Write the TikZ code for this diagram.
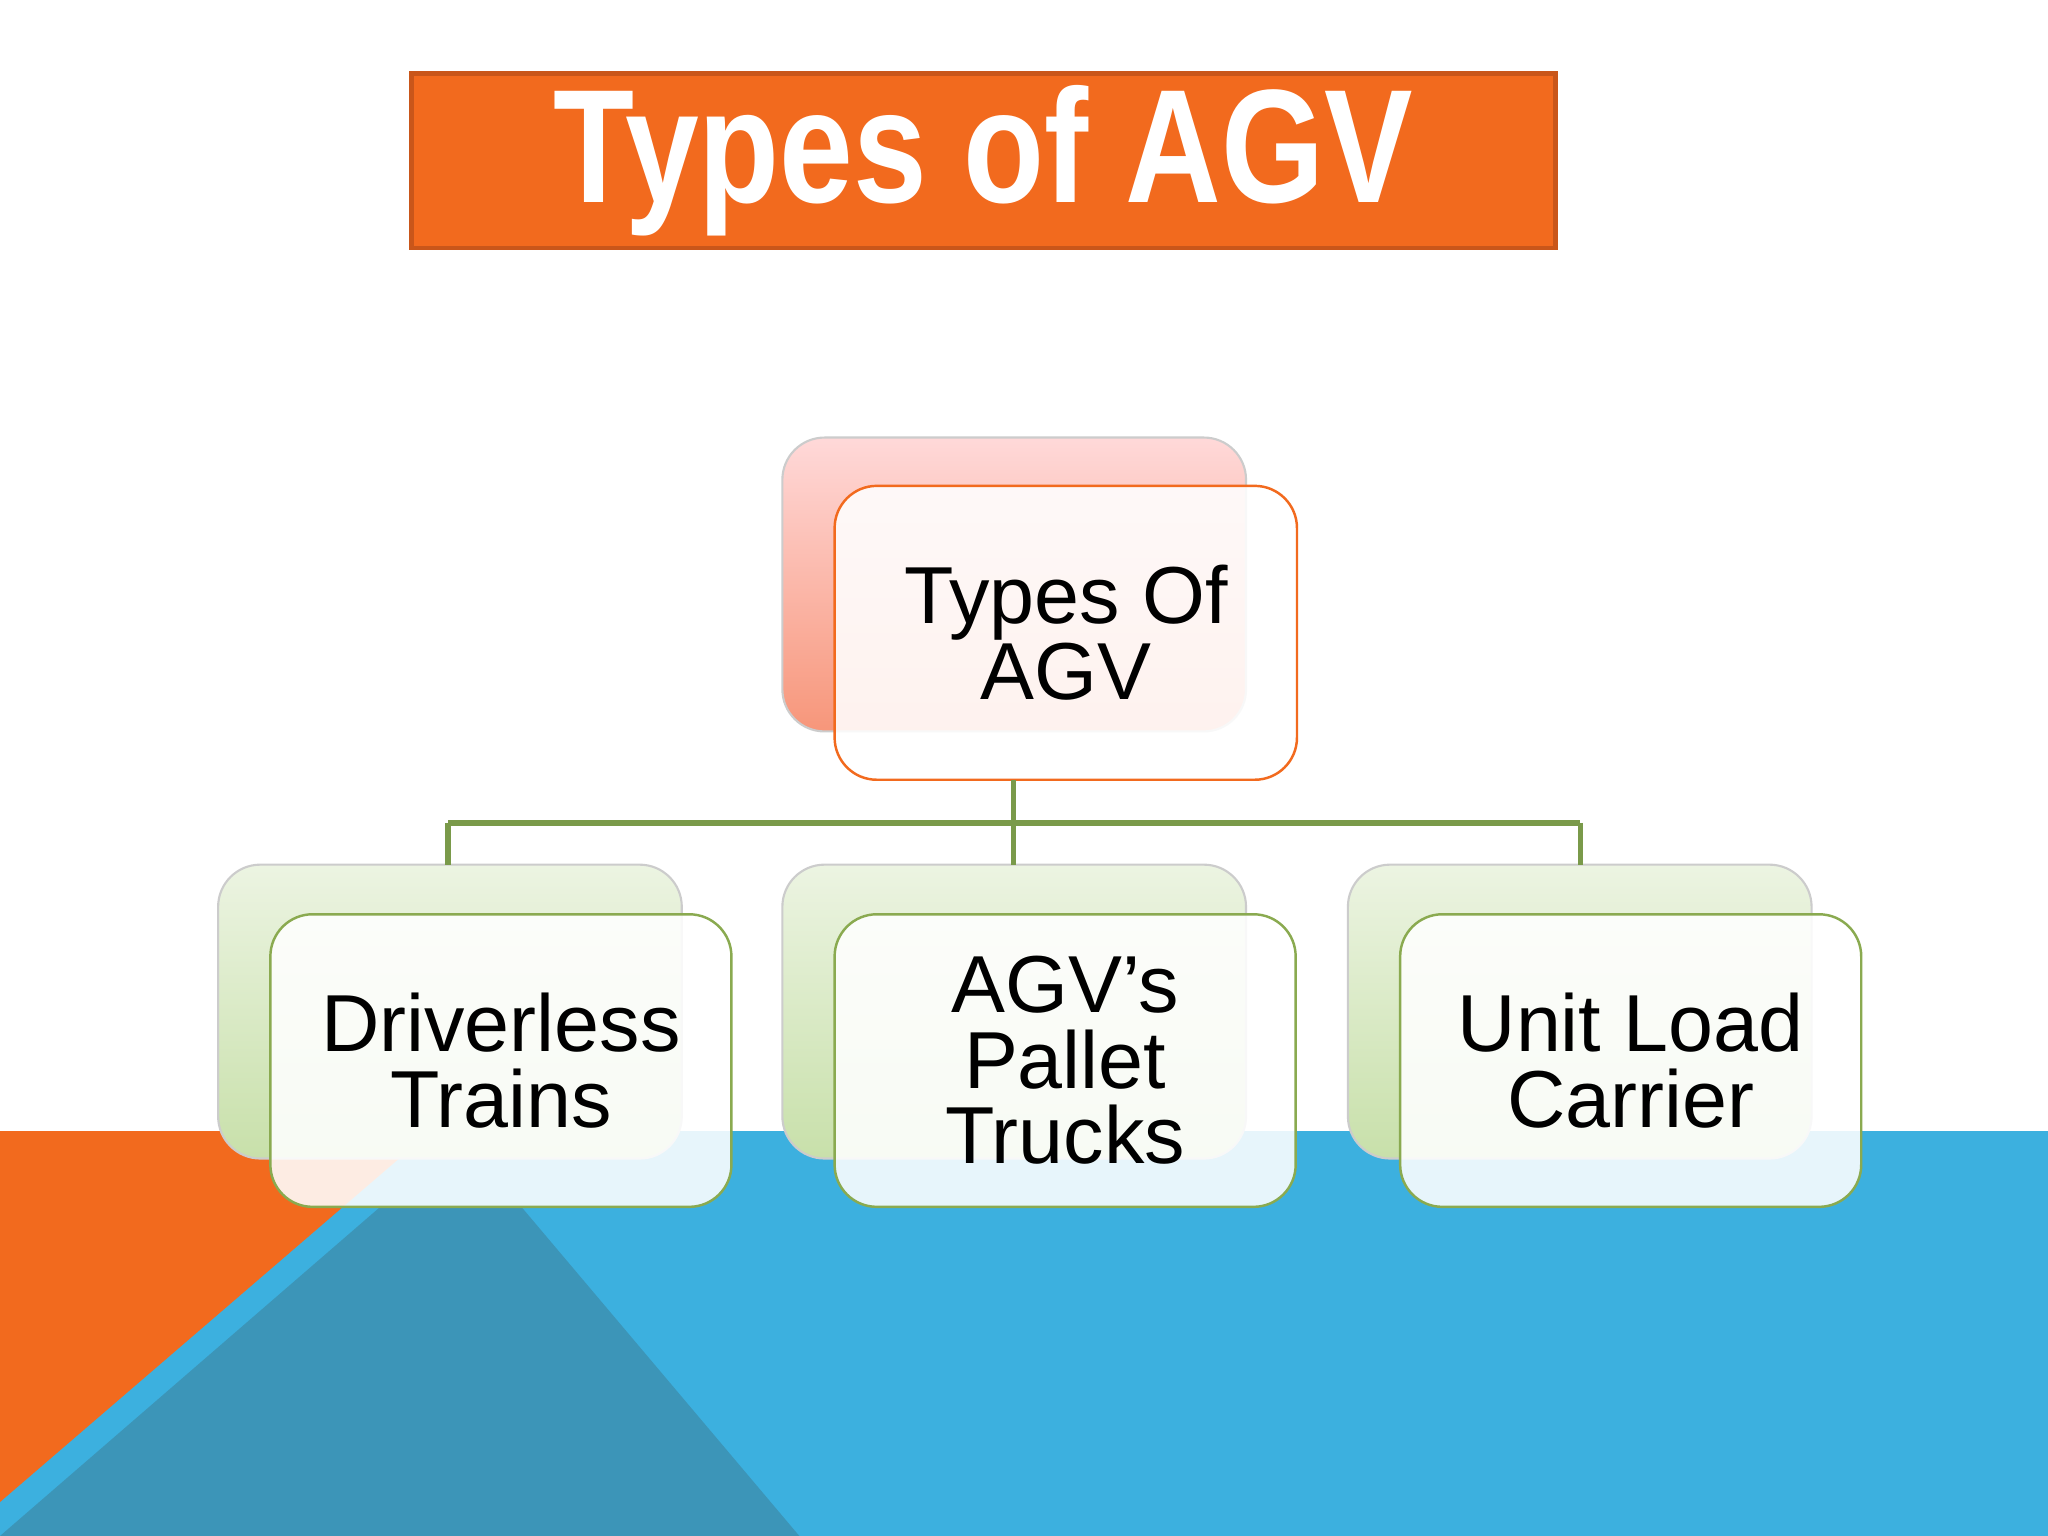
\documentclass[tikz,border=0pt]{standalone}
\usepackage{fontspec}
\setmainfont{Liberation Sans}
\usetikzlibrary{positioning}
\definecolor{org}{HTML}{F26A1E}
\definecolor{orgd}{HTML}{C9561A}
\definecolor{sky}{HTML}{3CB0DF}
\definecolor{teal}{HTML}{3C95B8}
\definecolor{grn}{HTML}{7A9A4A}
\definecolor{grnb}{HTML}{8AAA50}
\tikzset{
 backbox/.style={rounded corners=12pt, draw=gray!40, line width=0.6pt},
 frontbox/.style={rounded corners=12pt, fill=white, fill opacity=0.88, text opacity=1, line width=0.7pt, align=center, font=\fontsize{23}{21.5}\selectfont},
 conn/.style={grn, line width=1.6pt}
}
\begin{document}
\begin{tikzpicture}[x=0.013061cm,y=-0.013061cm]
\useasboundingbox (0,0) rectangle (1568,1176);
\fill[white] (0,0) rectangle (1568,1176);
% background
\fill[sky] (0,866) rectangle (1568,1176);
\fill[org] (0,866) -- (330,866) -- (0,1150) -- cycle;
\fill[teal] (0,1176) -- (290,925) -- (400,925) -- (612,1176) -- cycle;
% title
\node[draw=orgd, line width=1.2pt, fill=org, minimum width=876*0.013061cm, minimum height=132*0.013061cm, text=white, font=\bfseries\fontsize{46}{46}\selectfont] (title) at (753,123) {\scalebox{0.82}[1]{Types of AGV}};
% top node
\shade[backbox, top color=red!15!white, bottom color={rgb,255:red,247;green,150;blue,122}] (599,335) rectangle (954,560);
\node[frontbox, draw=org, minimum width=354*0.013061cm, minimum height=225*0.013061cm] (top) at (816,484.5) {Types Of\\AGV};
% lower nodes
\foreach \x/\n in {167/a,599/b,1032/c}{
  \shade[backbox, top color={rgb,255:red,236;green,244;blue,226}, bottom color={rgb,255:red,200;green,224;blue,170}] (\x,662) rectangle (\x+355,887);
}
\node[frontbox, draw=grnb, minimum width=353*0.013061cm, minimum height=224*0.013061cm] (dt) at (383.5,812) {Driverless\\Trains};
\node[frontbox, draw=grnb, minimum width=353*0.013061cm, minimum height=224*0.013061cm] (pt) at (815.5,812) {AGV’s\\Pallet\\Trucks};
\node[frontbox, draw=grnb, minimum width=353*0.013061cm, minimum height=224*0.013061cm] (ul) at (1248.5,812) {Unit Load\\Carrier};
% connectors
\coordinate (j) at (776,630);
\coordinate (l) at (343,630);
\coordinate (r) at (1210,630);
\draw[conn] (776,597) -- (j);
\draw[conn] (l) -- (r);
\draw[conn] (l) -- (343,662);
\draw[conn] (j) -- (776,662);
\draw[conn] (r) -- (1210,662);
\end{tikzpicture}
\end{document}
